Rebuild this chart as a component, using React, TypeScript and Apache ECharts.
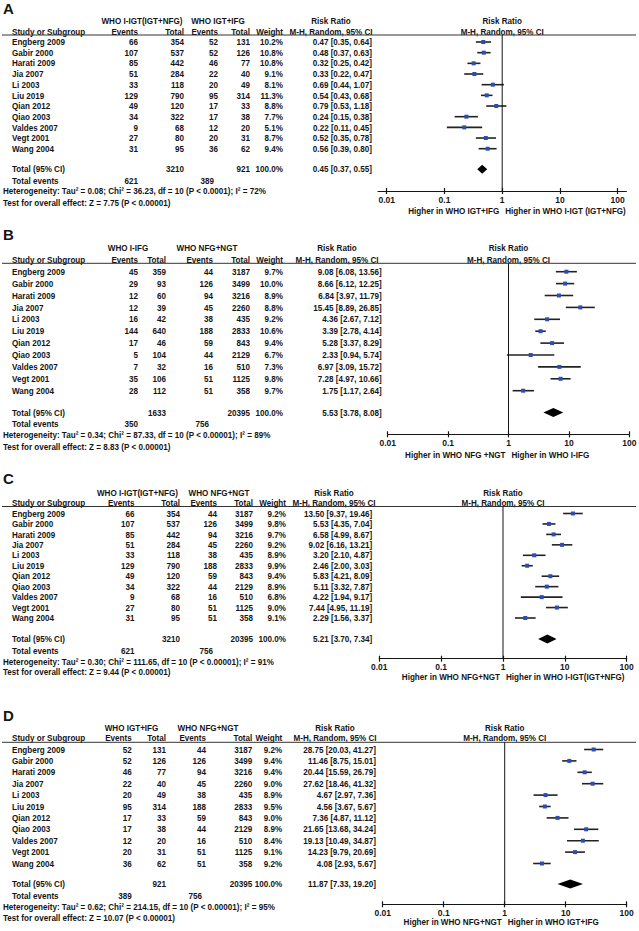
import React, { useEffect, useRef } from "react";
import * as echarts from "echarts";

// ---------- shared ----------
const studies = [
  "Engberg 2009", "Gabir 2000", "Harati 2009", "Jia 2007", "Li 2003", "Liu 2019",
  "Qian 2012", "Qiao 2003", "Valdes 2007", "Vegt 2001", "Wang 2004",
];
const tickValues = [0.01, 0.1, 1, 10, 100];
const tickLabels = ["0.01", "0.1", "1", "10", "100"];

// ---------- Panel A ----------
const aGroups = ["WHO I-IGT(IGT+NFG)", "WHO IGT+IFG"];
const aEvents1 = [66, 107, 85, 51, 33, 129, 49, 34, 9, 27, 31];
const aTotal1 = [354, 537, 442, 284, 118, 790, 120, 322, 68, 80, 95];
const aEvents2 = [52, 52, 46, 22, 20, 95, 17, 17, 12, 20, 36];
const aTotal2 = [131, 126, 77, 40, 49, 314, 33, 38, 20, 31, 62];
const aWeight = [10.2, 10.8, 10.8, 9.1, 8.1, 11.3, 8.8, 7.7, 5.1, 8.7, 9.4];
const aRR = [0.47, 0.48, 0.32, 0.33, 0.69, 0.54, 0.79, 0.24, 0.22, 0.52, 0.56];
const aLow = [0.35, 0.37, 0.25, 0.22, 0.44, 0.43, 0.53, 0.15, 0.11, 0.35, 0.39];
const aHigh = [0.64, 0.63, 0.42, 0.47, 1.07, 0.68, 1.18, 0.38, 0.45, 0.78, 0.8];
const aTotals = [3210, 921];
const aTotalEvents = [621, 389];
const aPooled = [0.45, 0.37, 0.55];
const aHet = "Heterogeneity: Tau² = 0.08; Chi² = 36.23, df = 10 (P < 0.0001); I² = 72%";
const aTest = "Test for overall effect: Z = 7.75 (P < 0.00001)";
const aFavours = ["Higher in WHO IGT+IFG", "Higher in WHO I-IGT (IGT+NFG)"];

// ---------- Panel B ----------
const bGroups = ["WHO I-IFG", "WHO NFG+NGT"];
const bEvents1 = [45, 29, 12, 12, 16, 144, 17, 5, 7, 35, 28];
const bTotal1 = [359, 93, 60, 39, 42, 640, 46, 104, 32, 106, 112];
const bEvents2 = [44, 126, 94, 45, 38, 188, 59, 44, 16, 51, 51];
const bTotal2 = [3187, 3499, 3216, 2260, 435, 2833, 843, 2129, 510, 1125, 358];
const bWeight = [9.7, 10.0, 8.9, 8.8, 9.2, 10.6, 9.4, 6.7, 7.3, 9.8, 9.7];
const bRR = [9.08, 8.66, 6.84, 15.45, 4.36, 3.39, 5.28, 2.33, 6.97, 7.28, 1.75];
const bLow = [6.08, 6.12, 3.97, 8.89, 2.67, 2.78, 3.37, 0.94, 3.09, 4.97, 1.17];
const bHigh = [13.56, 12.25, 11.79, 26.85, 7.12, 4.14, 8.29, 5.74, 15.72, 10.66, 2.64];
const bTotals = [1633, 20395];
const bTotalEvents = [350, 756];
const bPooled = [5.53, 3.78, 8.08];
const bHet = "Heterogeneity: Tau² = 0.34; Chi² = 87.33, df = 10 (P < 0.00001); I² = 89%";
const bTest = "Test for overall effect: Z = 8.83 (P < 0.00001)";
const bFavours = ["Higher in WHO NFG +NGT", "Higher in WHO I-IFG"];

// ---------- Panel C ----------
const cGroups = ["WHO I-IGT(IGT+NFG)", "WHO NFG+NGT"];
const cEvents1 = [66, 107, 85, 51, 33, 129, 49, 34, 9, 27, 31];
const cTotal1 = [354, 537, 442, 284, 118, 790, 120, 322, 68, 80, 95];
const cEvents2 = [44, 126, 94, 45, 38, 188, 59, 44, 16, 51, 51];
const cTotal2 = [3187, 3499, 3216, 2260, 435, 2833, 843, 2129, 510, 1125, 358];
const cWeight = [9.2, 9.8, 9.7, 9.2, 8.9, 9.9, 9.4, 8.9, 6.8, 9.0, 9.1];
const cRR = [13.5, 5.53, 6.58, 9.02, 3.2, 2.46, 5.83, 5.11, 4.22, 7.44, 2.29];
const cLow = [9.37, 4.35, 4.99, 6.16, 2.1, 2.0, 4.21, 3.32, 1.94, 4.95, 1.56];
const cHigh = [19.46, 7.04, 8.67, 13.21, 4.87, 3.03, 8.09, 7.87, 9.17, 11.19, 3.37];
const cTotals = [3210, 20395];
const cTotalEvents = [621, 756];
const cPooled = [5.21, 3.7, 7.34];
const cHet = "Heterogeneity: Tau² = 0.30; Chi² = 111.65, df = 10 (P < 0.00001); I² = 91%";
const cTest = "Test for overall effect: Z = 9.44 (P < 0.00001)";
const cFavours = ["Higher in WHO NFG+NGT", "Higher in WHO I-IGT(IGT+NFG)"];

// ---------- Panel D ----------
const dGroups = ["WHO IGT+IFG", "WHO NFG+NGT"];
const dEvents1 = [52, 52, 46, 22, 20, 95, 17, 17, 12, 20, 36];
const dTotal1 = [131, 126, 77, 40, 49, 314, 33, 38, 20, 31, 62];
const dEvents2 = [44, 126, 94, 45, 38, 188, 59, 44, 16, 51, 51];
const dTotal2 = [3187, 3499, 3216, 2260, 435, 2833, 843, 2129, 510, 1125, 358];
const dWeight = [9.2, 9.4, 9.4, 9.0, 8.9, 9.5, 9.0, 8.9, 8.4, 9.1, 9.2];
const dRR = [28.75, 11.46, 20.44, 27.62, 4.67, 4.56, 7.36, 21.65, 19.13, 14.23, 4.08];
const dLow = [20.03, 8.75, 15.59, 18.46, 2.97, 3.67, 4.87, 13.68, 10.49, 9.79, 2.93];
const dHigh = [41.27, 15.01, 26.79, 41.32, 7.36, 5.67, 11.12, 34.24, 34.87, 20.69, 5.67];
const dTotals = [921, 20395];
const dTotalEvents = [389, 756];
const dPooled = [11.87, 7.33, 19.2];
const dHet = "Heterogeneity: Tau² = 0.62; Chi² = 214.15, df = 10 (P < 0.00001); I² = 95%";
const dTest = "Test for overall effect: Z = 10.07 (P < 0.00001)";
const dFavours = ["Higher in WHO NFG+NGT", "Higher in WHO IGT+IFG"];

const panels = [
  { letter: "A", groups: aGroups, e1: aEvents1, t1: aTotal1, e2: aEvents2, t2: aTotal2, w: aWeight, rr: aRR, lo: aLow, hi: aHigh, totals: aTotals, tev: aTotalEvents, pooled: aPooled, het: aHet, test: aTest, fav: aFavours },
  { letter: "B", groups: bGroups, e1: bEvents1, t1: bTotal1, e2: bEvents2, t2: bTotal2, w: bWeight, rr: bRR, lo: bLow, hi: bHigh, totals: bTotals, tev: bTotalEvents, pooled: bPooled, het: bHet, test: bTest, fav: bFavours },
  { letter: "C", groups: cGroups, e1: cEvents1, t1: cTotal1, e2: cEvents2, t2: cTotal2, w: cWeight, rr: cRR, lo: cLow, hi: cHigh, totals: cTotals, tev: cTotalEvents, pooled: cPooled, het: cHet, test: cTest, fav: cFavours },
  { letter: "D", groups: dGroups, e1: dEvents1, t1: dTotal1, e2: dEvents2, t2: dTotal2, w: dWeight, rr: dRR, lo: dLow, hi: dHigh, totals: dTotals, tev: dTotalEvents, pooled: dPooled, het: dHet, test: dTest, fav: dFavours },
];

// ---------- layout (positions only) ----------
const layouts = [
  { letterY: 8, h1Y: 21, h2Y: 31.5, lineY: 35, rowTop: 42, rowStep: 10.67, totalY: 169.3, evY: 180.8, hetY: 191.3, testY: 202.5, axisY: 191, higherY: 210.5, x001: 386.7, x100: 617.7, ext: 0.15,
    cols: { e1: 138, t1: 184, e2: 218, t2: 250, w: 283, rr: 372, g1: 142, g2: 218, rrh: 331 } },
  { letterY: 234, h1Y: 247.5, h2Y: 259.5, lineY: 263.3, rowTop: 271.7, rowStep: 11.9, totalY: 412.5, evY: 424, hetY: 435.3, testY: 446.7, axisY: 434.3, higherY: 455, x001: 387.7, x100: 629.3, ext: 0,
    cols: { e1: 138, t1: 166, e2: 213, t2: 250, w: 283, rr: 381.7, g1: 128, g2: 207, rrh: 337 } },
  { letterY: 478, h1Y: 492.5, h2Y: 503, lineY: 506.5, rowTop: 513.5, rowStep: 10.45, totalY: 639, evY: 650.6, hetY: 661.6, testY: 671.8, axisY: 658.7, higherY: 677, x001: 379.3, x100: 626.7, ext: 0,
    cols: { e1: 134.5, t1: 180, e2: 217, t2: 253, w: 286, rr: 372.3, g1: 137.5, g2: 219, rrh: 334 } },
  { letterY: 715, h1Y: 727.5, h2Y: 738, lineY: 742.3, rowTop: 749.5, rowStep: 11.4, totalY: 884, evY: 895.5, hetY: 906.5, testY: 917.5, axisY: 904.3, higherY: 922.3, x001: 382.7, x100: 626.7, ext: 0,
    cols: { e1: 131.7, t1: 166, e2: 206, t2: 252.3, w: 282.3, rr: 376, g1: 131.5, g2: 208, rrh: 335 } },
];

const FONT = '"Liberation Sans", Arial, Helvetica, sans-serif';
const INK = "#151515";
const SQUARE = "#2c4db4";

const fmtRR = (v: number, lo: number, hi: number) =>
  `${v.toFixed(2)} [${lo.toFixed(2)}, ${hi.toFixed(2)}]`;

function txt(text: string, x: number, y: number, align = "left", size = 9, sx = 0.9) {
  return {
    type: "text",
    x,
    y,
    scaleX: sx,
    silent: true,
    style: {
      text,
      x: 0,
      y: 0,
      fill: INK,
      fontSize: size,
      fontWeight: "bold",
      fontFamily: FONT,
      align,
      verticalAlign: "middle",
    },
  };
}

function buildOption() {
  const grid: any[] = [];
  const xAxis: any[] = [];
  const yAxis: any[] = [];
  const series: any[] = [];
  const graphic: any[] = [];
  const logTicks = tickValues.map((v) => Math.log10(v));

  panels.forEach((p, i) => {
    const L = layouts[i];
    const C = L.cols;
    const ymin = (L.lineY - L.rowTop) / L.rowStep;
    const ymax = (L.axisY - L.rowTop) / L.rowStep;
    const totalIdx = (L.totalY - L.rowTop) / L.rowStep;
    const decade = (L.x100 - L.x001) / 4;
    const xmin = -2 - L.ext;
    const xmax = 2 + L.ext;
    const gLeft = L.x001 - L.ext * decade;
    const gWidth = (4 + 2 * L.ext) * decade;
    const xOne = L.x001 + 2 * decade;

    grid.push({ left: gLeft, top: L.lineY, width: gWidth, height: L.axisY - L.lineY, outerBoundsMode: "none", containLabel: false });

    xAxis.push({
      gridIndex: i, type: "value", position: "bottom", min: xmin, max: xmax,
      axisLine: { show: true, onZero: false, lineStyle: { color: INK, width: 1.2 } },
      axisTick: { show: true, customValues: logTicks, length: 3, lineStyle: { color: INK, width: 1.2 } },
      axisLabel: {
        show: true, customValues: logTicks, margin: 4, color: INK, fontSize: 8.5, fontWeight: "bold", fontFamily: FONT,
        formatter: (v: number) => tickLabels[Math.round(v) + 2],
      },
      splitLine: { show: false },
    });
    xAxis.push({
      gridIndex: i, type: "value", position: "bottom", min: xmin, max: xmax,
      axisLine: { show: false, onZero: false },
      axisTick: { show: true, inside: true, customValues: logTicks, length: 3, lineStyle: { color: INK, width: 1.2 } },
      axisLabel: { show: false },
      splitLine: { show: false },
    });
    yAxis.push({ gridIndex: i, type: "value", inverse: true, min: ymin, max: ymax, show: false });

    // vertical line of no effect
    series.push({
      type: "line", xAxisIndex: 2 * i, yAxisIndex: i, silent: true, symbol: "none",
      data: [[0, ymin], [0, ymax]],
      lineStyle: { color: INK, width: 1 },
    });

    // study CIs and point estimates
    series.push({
      type: "custom", xAxisIndex: 2 * i, yAxisIndex: i, silent: true, clip: false,
      data: p.rr.map((v, k) => [Math.log10(p.lo[k]), Math.log10(p.hi[k]), Math.log10(v), k]),
      encode: { x: [0, 1, 2], y: 3 },
      renderItem: (params: any, api: any) => {
        const a = api.coord([api.value(0), api.value(3)]);
        const b = api.coord([api.value(1), api.value(3)]);
        const c = api.coord([api.value(2), api.value(3)]);
        return {
          type: "group",
          children: [
            { type: "line", shape: { x1: a[0], y1: a[1], x2: b[0], y2: b[1] }, style: { stroke: "#222", lineWidth: 1.6 } },
            { type: "rect", shape: { x: c[0] - 2, y: c[1] - 2, width: 4, height: 4 }, style: { fill: SQUARE } },
          ],
        };
      },
    });

    // pooled diamond
    series.push({
      type: "custom", xAxisIndex: 2 * i, yAxisIndex: i, silent: true, clip: false,
      data: [[Math.log10(p.pooled[1]), Math.log10(p.pooled[2]), Math.log10(p.pooled[0]), totalIdx]],
      encode: { x: [0, 1, 2], y: 3 },
      renderItem: (params: any, api: any) => {
        const a = api.coord([api.value(0), api.value(3)]);
        const b = api.coord([api.value(1), api.value(3)]);
        const c = api.coord([api.value(2), api.value(3)]);
        return {
          type: "polygon",
          shape: { points: [[a[0], a[1]], [c[0], c[1] - 4.5], [b[0], b[1]], [c[0], c[1] + 4.5]] },
          style: { fill: "#000" },
        };
      },
    });

    // ---------- table texts ----------
    graphic.push(txt(p.letter, 3, L.letterY, "left", 15, 1));
    graphic.push(txt(p.groups[0], C.g1, L.h1Y, "center"));
    graphic.push(txt(p.groups[1], C.g2, L.h1Y, "center"));
    graphic.push(txt("Risk Ratio", C.rrh, L.h1Y, "center"));
    graphic.push(txt("Risk Ratio", xOne, L.h1Y, "center"));
    graphic.push(txt("Study or Subgroup", 12, L.h2Y, "left"));
    graphic.push(txt("Events", C.e1, L.h2Y, "right"));
    graphic.push(txt("Total", C.t1, L.h2Y, "right"));
    graphic.push(txt("Events", C.e2, L.h2Y, "right"));
    graphic.push(txt("Total", C.t2, L.h2Y, "right"));
    graphic.push(txt("Weight", C.w, L.h2Y, "right"));
    graphic.push(txt("M-H, Random, 95% CI", C.rrh, L.h2Y, "center"));
    graphic.push(txt("M-H, Random, 95% CI", xOne, L.h2Y, "center"));
    graphic.push({
      type: "line", silent: true,
      shape: { x1: 2, y1: L.lineY, x2: 636, y2: L.lineY },
      style: { stroke: "#333", lineWidth: 1 },
    });

    studies.forEach((s, k) => {
      const y = L.rowTop + k * L.rowStep;
      graphic.push(txt(s, 12, y, "left"));
      graphic.push(txt(String(p.e1[k]), C.e1, y, "right"));
      graphic.push(txt(String(p.t1[k]), C.t1, y, "right"));
      graphic.push(txt(String(p.e2[k]), C.e2, y, "right"));
      graphic.push(txt(String(p.t2[k]), C.t2, y, "right"));
      graphic.push(txt(p.w[k].toFixed(1) + "%", C.w, y, "right"));
      graphic.push(txt(fmtRR(p.rr[k], p.lo[k], p.hi[k]), C.rr, y, "right"));
    });

    graphic.push(txt("Total (95% CI)", 12, L.totalY, "left"));
    graphic.push(txt(String(p.totals[0]), C.t1, L.totalY, "right"));
    graphic.push(txt(String(p.totals[1]), C.t2, L.totalY, "right"));
    graphic.push(txt("100.0%", C.w, L.totalY, "right"));
    graphic.push(txt(fmtRR(p.pooled[0], p.pooled[1], p.pooled[2]), C.rr, L.totalY, "right"));
    graphic.push(txt("Total events", 12, L.evY, "left"));
    graphic.push(txt(String(p.tev[0]), C.e1, L.evY, "right"));
    graphic.push(txt(String(p.tev[1]), C.e2 - 4, L.evY, "right"));
    graphic.push(txt(p.het, 3, L.hetY, "left"));
    graphic.push(txt(p.test, 3, L.testY, "left"));

    graphic.push(txt(p.fav[0], xOne - 3, L.higherY, "right"));
    graphic.push(txt(p.fav[1], xOne + 3, L.higherY, "left"));
  });

  return {
    animation: false,
    backgroundColor: "#ffffff",
    grid,
    xAxis,
    yAxis,
    series,
    graphic: { elements: graphic },
  };
}

export default function App() {
  const ref = useRef<HTMLDivElement>(null);
  useEffect(() => {
    if (!ref.current) return;
    const chart = echarts.init(ref.current, undefined, { renderer: "svg" });
    chart.setOption(buildOption() as any);
    return () => chart.dispose();
  }, []);
  return (
    <div
      ref={ref}
      style={{ position: "absolute", left: 0, top: 0, width: 639, height: 931, background: "#fff" }}
    />
  );
}
